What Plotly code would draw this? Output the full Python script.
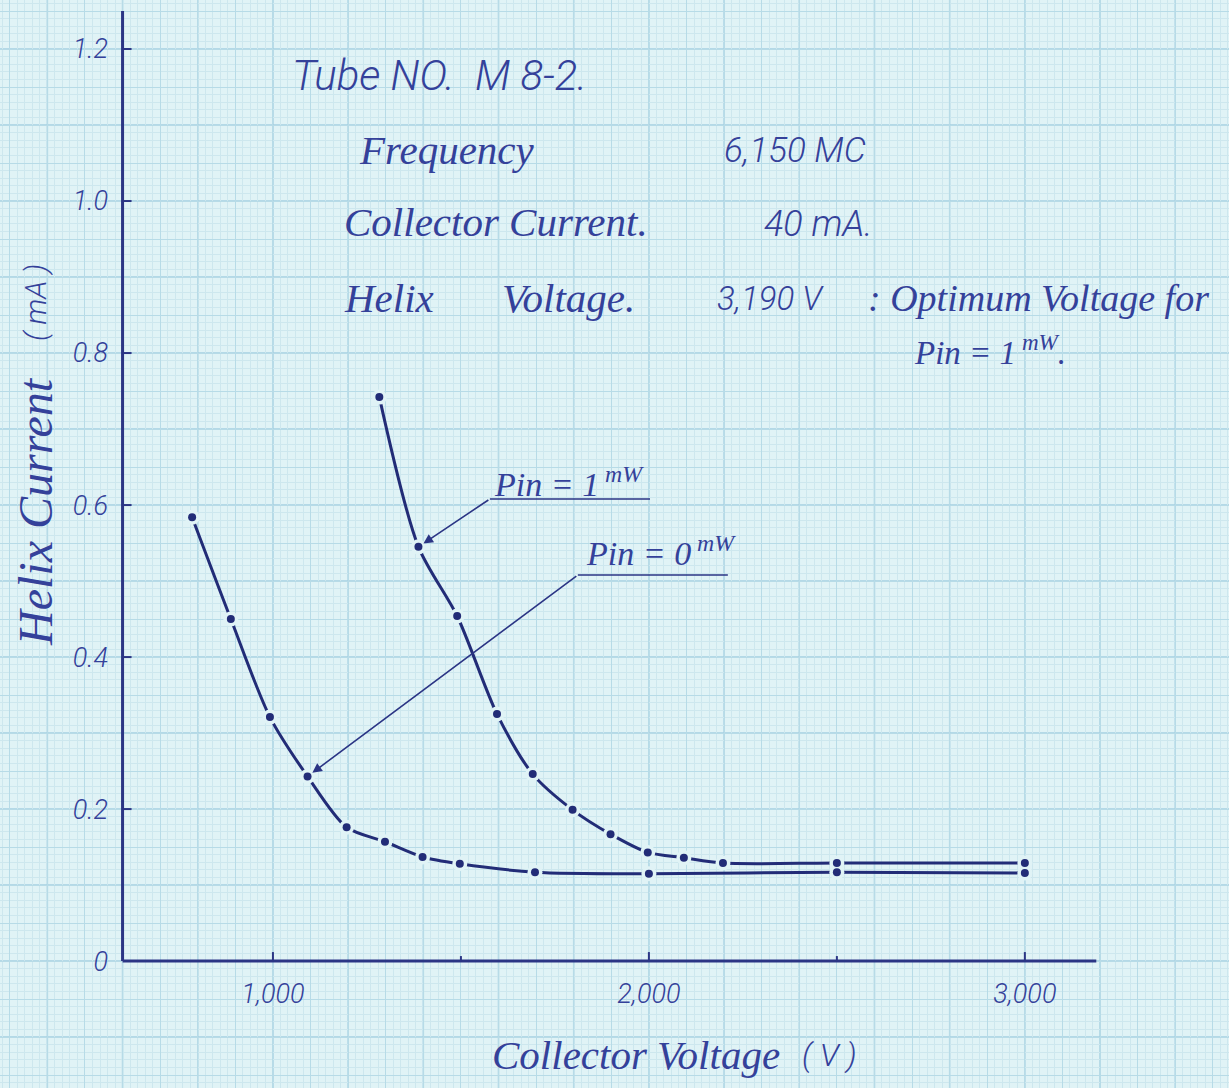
import plotly.graph_objects as go

W, H = 1229, 1088

# Helix current vs collector voltage
v_pin0 = [785, 888, 992, 1092, 1196, 1298, 1398, 1497, 1697, 2000, 2500, 3000]
i_pin0 = [0.584, 0.450, 0.321, 0.243, 0.176, 0.157, 0.137, 0.128, 0.117, 0.115, 0.117, 0.116]

v_pin1 = [1283, 1387, 1490, 1596, 1691, 1797, 1898, 1997, 2093, 2197, 2500, 3000]
i_pin1 = [0.742, 0.545, 0.454, 0.325, 0.246, 0.199, 0.167, 0.143, 0.136, 0.129, 0.129, 0.129]

x_ticks = [1000, 1500, 2000, 2500, 3000]
x_tick_text = {1000: "1,000", 2000: "2,000", 3000: "3,000"}
y_ticks = [0, 0.2, 0.4, 0.6, 0.8, 1.0, 1.2]
y_tick_text = ["0", "0.2", "0.4", "0.6", "0.8", "1.0", "1.2"]

bg = "#e0f3f6"
ink = "#2b3585"
text_ink = "#34419a"
curve_ink = "#222c77"
grid_fine = "#cde7ee"
grid_mid = "#b7dbe7"
grid_bold = "#a6d1e2"

script = "Liberation Serif"
tech = "Roboto"

# sheet fills the whole page: axes ranges chosen so the paper grid covers everything
x_rng = [274, 3543]
y_rng = [-0.167, 1.2645]
x0_axis, x1_axis, y1_axis = 600, 3190, 1.25

grid_x = list(range(300, 3600, 100))
grid_y = [round(k * 0.05, 2) for k in range(-3, 26)]

fig = go.Figure()

for v, i in [(v_pin0, i_pin0), (v_pin1, i_pin1)]:
    fig.add_trace(go.Scatter(x=v, y=i, mode="lines",
                             line=dict(color=curve_ink, width=3, shape="spline", smoothing=0.8)))
for v, i in [(v_pin0, i_pin0), (v_pin1, i_pin1)]:
    # small gap in the pen line around each point
    fig.add_trace(go.Scatter(x=v, y=i, mode="markers",
                             marker=dict(color=bg, size=15, line=dict(width=0))))
for v, i in [(v_pin0, i_pin0), (v_pin1, i_pin1)]:
    fig.add_trace(go.Scatter(x=v, y=i, mode="markers",
                             marker=dict(color=curve_ink, size=8, line=dict(width=0))))

shapes = []
# heavier 10 mm lines of the graph paper
for gx in range(400, 3600, 200):
    shapes.append(dict(type="line", xref="x", yref="paper", x0=gx, x1=gx, y0=0, y1=1,
                       line=dict(color=grid_bold, width=1.5), layer="between"))
for k in range(-1, 13):
    gy = k / 10
    shapes.append(dict(type="line", xref="paper", yref="y", x0=0, x1=1, y0=gy, y1=gy,
                       line=dict(color=grid_bold, width=1.5), layer="between"))

# axes drawn in ink
shapes.append(dict(type="line", xref="x", yref="y", x0=x0_axis, x1=x1_axis, y0=0, y1=0,
                   line=dict(color=ink, width=3)))
shapes.append(dict(type="line", xref="x", yref="y", x0=x0_axis, x1=x0_axis, y0=0, y1=y1_axis,
                   line=dict(color=ink, width=3)))
for t in x_ticks:
    ln = 9 if t in x_tick_text else 5
    shapes.append(dict(type="line", xref="x", yref="y", x0=t, x1=t, ysizemode="pixel",
                       yanchor=0, y0=0, y1=ln, line=dict(color=ink, width=2)))
for t in y_ticks[1:]:
    shapes.append(dict(type="line", xref="x", yref="y", y0=t, y1=t, xsizemode="pixel",
                       xanchor=x0_axis, x0=0, x1=9, line=dict(color=ink, width=2)))

# leader lines of the curve labels
shapes.append(dict(type="line", xref="x", yref="y", x0=1577, x1=2003, y0=0.608, y1=0.608,
                   line=dict(color=ink, width=1.6)))
shapes.append(dict(type="line", xref="x", yref="y", x0=1811, x1=2210, y0=0.508, y1=0.508,
                   line=dict(color=ink, width=1.6)))


def note(text, px, py, size, family, anchor="left", angle=0):
    return dict(text=text, x=px / W, y=1 - py / H, xref="paper", yref="paper",
                xanchor=anchor, yanchor="middle", showarrow=False, textangle=angle,
                font=dict(family=family, size=size, color=text_ink, style="italic",
                          weight=300 if family == tech else 400))


annotations = [
    note("Tube NO.&nbsp;&nbsp;M 8-2.", 290, 75, 42, tech),
    note("Frequency", 357, 150, 41, script),
    note("6,150 MC", 722, 150, 35, tech),
    note("Collector Current.", 342, 222, 41, script),
    note("40 mA.", 762, 224, 36, tech),
    note("Helix", 342, 298, 41, script),
    note("Voltage.", 500, 298, 41, script),
    note("3,190 V", 715, 298, 33, tech),
    note(": Optimum Voltage for", 866, 298, 38, script),
    note("Pin = 1<sup> mW</sup>.", 912, 350, 33, script),
    note("Pin = 1<sup> mW</sup>", 492, 482, 34, script),
    note("Pin = 0<sup> mW</sup>", 584, 551, 34, script),
    note("Collector Voltage", 490, 1055, 41, script),
    note("( V )", 800, 1055, 32, tech),
    note("Helix Current", 35, 512, 48, script, anchor="center", angle=-90),
    note("( mA )", 35, 303, 30, tech, anchor="center", angle=-90),
]

# arrows from the label knees to the marked points
for kx, ky, px_, py_ in [(1577, 0.608, v_pin1[1], i_pin1[1]), (1811, 0.508, v_pin0[3], i_pin0[3])]:
    annotations.append(dict(x=px_, y=py_, ax=kx, ay=ky, xref="x", yref="y", axref="x", ayref="y",
                            text="", showarrow=True, arrowhead=2, arrowsize=1.2, arrowwidth=1.6,
                            arrowcolor=ink, standoff=6))

tick_font = dict(family=tech, size=27, color=text_ink, style="italic", weight=300)

fig.update_layout(
    width=W, height=H,
    margin=dict(l=0, r=0, t=0, b=0),
    paper_bgcolor=bg, plot_bgcolor=bg,
    showlegend=False,
    shapes=shapes,
    annotations=annotations,
    xaxis=dict(range=x_rng, anchor="free", position=(H - 961) / H, automargin=False,
               tickmode="array", tickvals=grid_x,
               ticktext=[x_tick_text.get(g, "") for g in grid_x],
               ticks="", showline=False, zeroline=False,
               showgrid=True, gridcolor=grid_mid, gridwidth=1,
               minor=dict(tick0=0, dtick=20, showgrid=True, gridcolor=grid_fine, gridwidth=1),
               ticklabelstandoff=14, tickfont=tick_font),
    yaxis=dict(range=y_rng, anchor="free", position=122 / W, automargin=False,
               tickmode="array", tickvals=grid_y,
               ticktext=[y_tick_text[y_ticks.index(g)] if g in y_ticks else "" for g in grid_y],
               ticks="", showline=False, zeroline=False,
               showgrid=True, gridcolor=grid_mid, gridwidth=1,
               minor=dict(tick0=0, dtick=0.01, showgrid=True, gridcolor=grid_fine, gridwidth=1),
               ticklabelstandoff=14, tickfont=tick_font),
)

# the sheet should start at the page corner, without the browser's body margin
fig.write_html("out.html", config={"displayModeBar": False},
               post_script="document.body.style.margin = '0';")
